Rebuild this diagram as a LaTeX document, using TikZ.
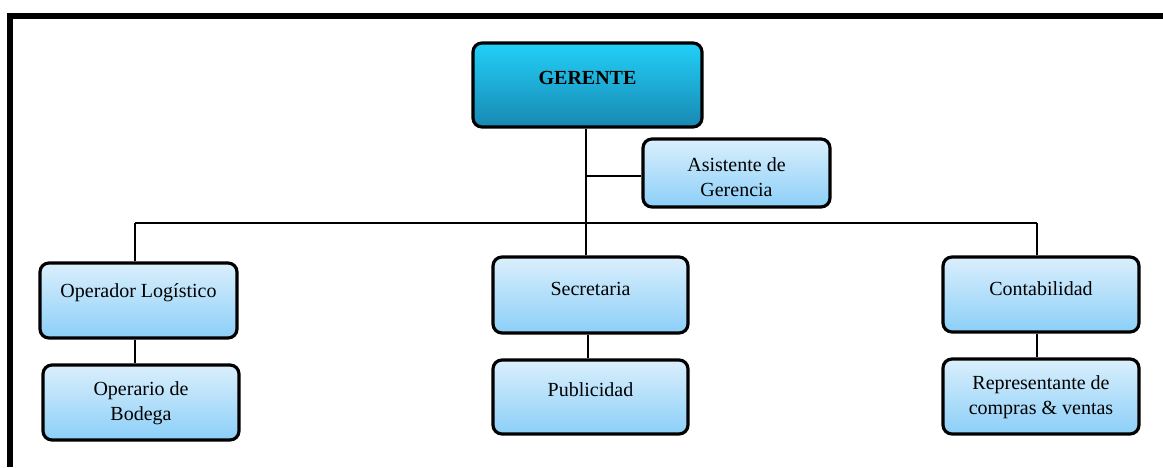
\documentclass[tikz,border=0pt]{standalone}
\usepackage{fontspec}
\setmainfont{Liberation Serif}
\definecolor{lighttop}{HTML}{DAEFFC}
\definecolor{lightbot}{HTML}{8CCFF8}
\definecolor{darktop}{HTML}{22D0F8}
\definecolor{darkbot}{HTML}{1888B2}
\tikzset{
  box/.style={draw=black, line width=3.2pt, rounded corners=9pt, top color=lighttop, bottom color=lightbot, inner sep=0pt},
  topbox/.style={box, top color=darktop, bottom color=darkbot},
  lbl/.style={font=\fontsize{20}{25}\selectfont, align=center, inner sep=0pt},
  link/.style={draw=black, line width=1.6pt},
}
\begin{document}
\begin{tikzpicture}[x=1pt,y=-1pt]
\useasboundingbox (0,0) rectangle (1163,467);
% frame
\fill[black] (7,13) rectangle (1163,19);
\fill[black] (7,13) rectangle (13,467);
% boxes
\node[topbox, minimum width=229pt, minimum height=84pt] (ger) at (587.5,85) {};
\node[box, minimum width=187pt, minimum height=68pt] (asi) at (736.5,173) {};
\node[box, minimum width=197pt, minimum height=75pt] (ope) at (138.5,300.5) {};
\node[box, minimum width=196pt, minimum height=75pt] (bod) at (141,402.5) {};
\node[box, minimum width=195pt, minimum height=76pt] (sec) at (590.5,295) {};
\node[box, minimum width=195pt, minimum height=74pt] (pub) at (590.5,397) {};
\node[box, minimum width=196pt, minimum height=75pt] (con) at (1041,294.5) {};
\node[box, minimum width=196pt, minimum height=75pt] (rep) at (1041,396.5) {};
% texts
\node[lbl, font=\fontsize{20}{25}\selectfont\bfseries] (tger) at (587.5,78) {GERENTE};
\node[lbl] (tasi) at (736.5,177) {Asistente de\\Gerencia};
\node[lbl] (tope) at (138.5,293) {Operador Logístico};
\node[lbl] (tbod) at (141,403) {Operario de\\Bodega};
\node[lbl] (tsec) at (590.5,289) {Secretaria};
\node[lbl] (tpub) at (590.5,390) {Publicidad};
\node[lbl] (tcon) at (1041,289) {Contabilidad};
\node[lbl] (trep) at (1041,397) {Representante de\\compras \& ventas};
% connectors
\coordinate (trunk) at (586,223);
\coordinate (asij) at (586,176);
\coordinate (hl) at (135,223);
\coordinate (hr) at (1037,223);
\coordinate (sj) at (588,0);
\draw[link] (ger.south -| trunk) -- (trunk);
\draw[link] (asij) -- (asij -| asi.west);
\draw[link] (hl) -- (hr);
\draw[link] (hl) -- (hl |- ope.north);
\draw[link] (hr) -- (hr |- con.north);
\draw[link] (trunk) -- (trunk |- sec.north);
\draw[link] (ope.south -| hl) -- (bod.north -| hl);
\draw[link] (sec.south -| sj) -- (pub.north -| sj);
\draw[link] (con.south -| hr) -- (rep.north -| hr);
\end{tikzpicture}
\end{document}
